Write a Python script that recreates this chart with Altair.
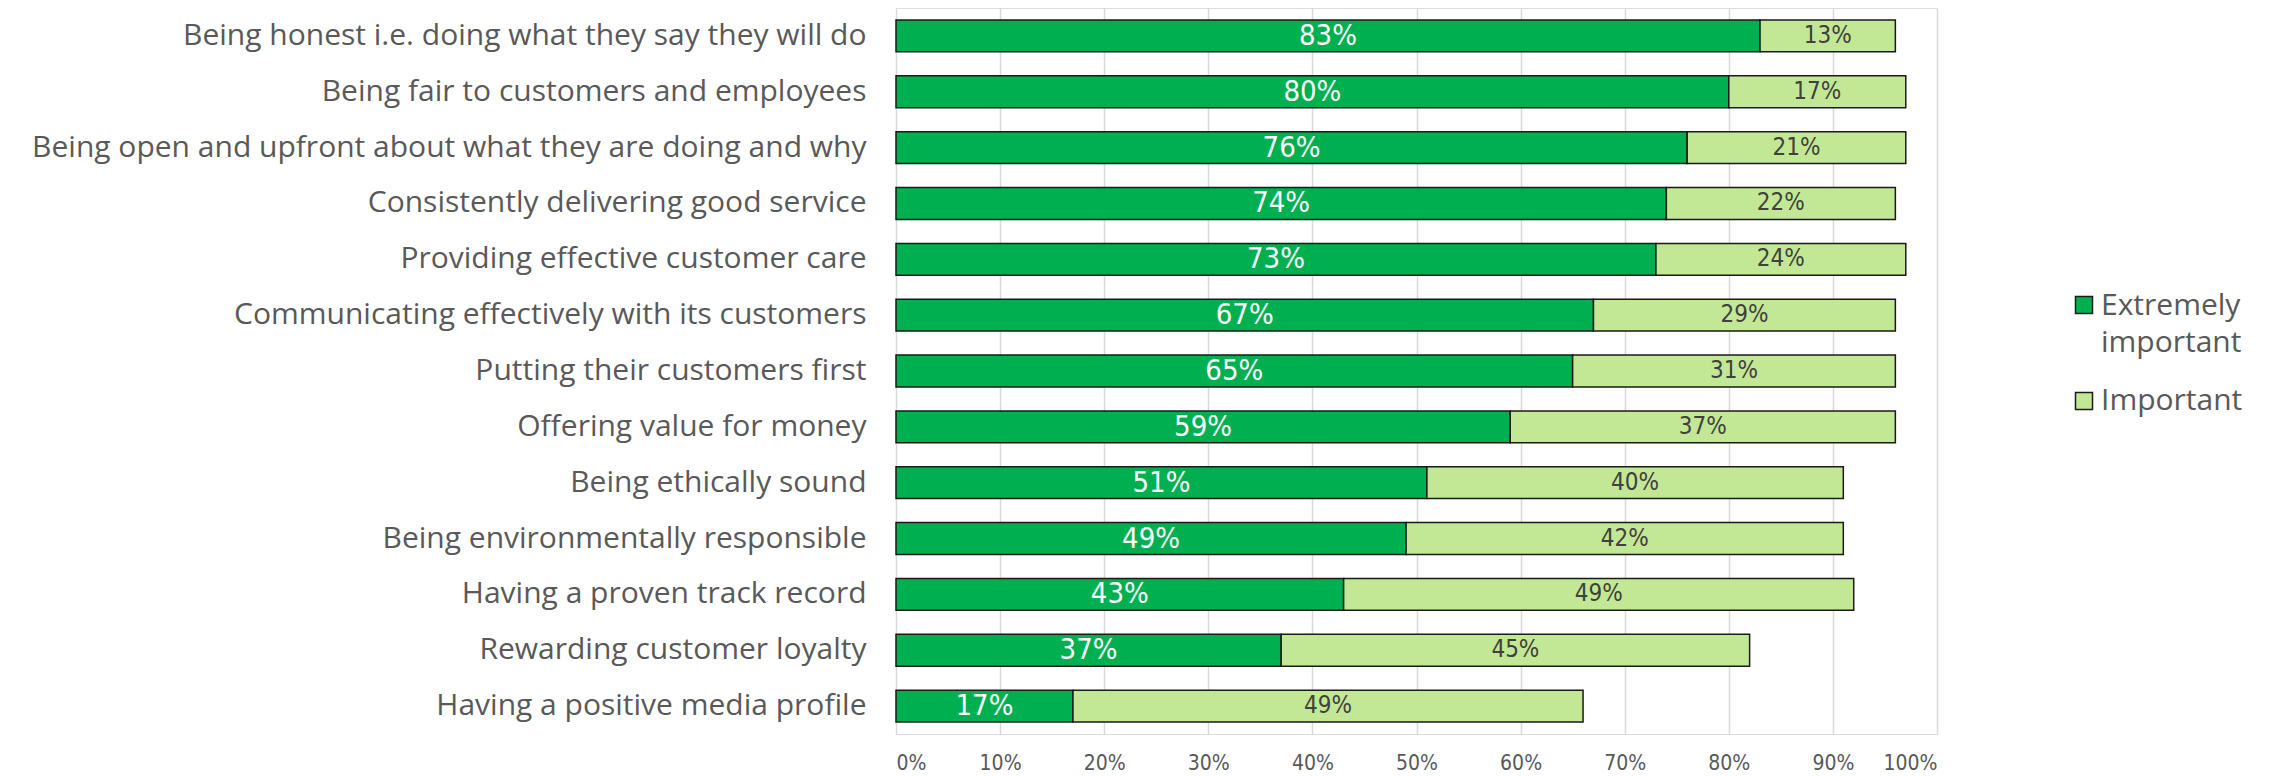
import altair as alt
import pandas as pd

categories = [
    "Being honest i.e. doing what they say they will do",
    "Being fair to customers and employees",
    "Being open and upfront about what they are doing and why",
    "Consistently delivering good service",
    "Providing effective customer care",
    "Communicating effectively with its customers",
    "Putting their customers first",
    "Offering value for money",
    "Being ethically sound",
    "Being environmentally responsible",
    "Having a proven track record",
    "Rewarding customer loyalty",
    "Having a positive media profile",
]
extremely = [83, 80, 76, 74, 73, 67, 65, 59, 51, 49, 43, 37, 17]
important = [13, 17, 21, 22, 24, 29, 31, 37, 40, 42, 49, 45, 49]
series = ["Extremely important", "Important"]
legend_labels = ["Extremely\nimportant", "Important"]
colors = ["#00B050", "#C3E895"]
x_ticks = [0, 10, 20, 30, 40, 50, 60, 70, 80, 90, 100]

rows = []
for c, e, i in zip(categories, extremely, important):
    rows.append({"category": c, "series": series[0], "value": e, "ord": 0})
    rows.append({"category": c, "series": series[1], "value": i, "ord": 1})
df = pd.DataFrame(rows)

LABEL_FONT = "Open Sans"
NUM_FONT = "DejaVu Sans Condensed"

color_scale = alt.Scale(domain=series, range=colors)

base = alt.Chart(df).transform_stack(
    stack="value", groupby=["category"], as_=["x0", "x1"],
    sort=[alt.SortField("ord", order="ascending")]
).transform_calculate(mid="(datum.x0 + datum.x1) / 2",
                      lab="datum.value + '%'")

y_enc = alt.Y("category:N", sort=categories, title=None,
              scale=alt.Scale(paddingInner=0.43, paddingOuter=0.215),
              axis=alt.Axis(labelFont=LABEL_FONT, labelFontSize=30,
                            labelColor="#595959", labelPadding=30,
                            labelLimit=2000, ticks=False, domain=False,
                            grid=False))

bars = base.mark_bar(stroke="#1a1a1a", strokeWidth=1.5).encode(
    x=alt.X("x0:Q", title=None,
            scale=alt.Scale(domain=[0, 100], nice=False),
            axis=alt.Axis(values=x_ticks, labelExpr="datum.value + '%'",
                          labelFont=NUM_FONT, labelFontSize=21,
                          labelColor="#595959", labelPadding=18,
                          ticks=False, domain=False, grid=True,
                          gridColor="#D9D9D9", gridWidth=1.5)),
    x2="x1:Q",
    y=y_enc,
    color=alt.Color("series:N", scale=color_scale, legend=None),
)

text_dark = base.transform_filter(alt.datum.ord == 0).mark_text(
    font=NUM_FONT, fontSize=29, color="white", baseline="middle"
).encode(x="mid:Q", y=alt.Y("category:N", sort=categories), text="lab:N")

text_light = base.transform_filter(alt.datum.ord == 1).mark_text(
    font=NUM_FONT, fontSize=24, color="#404040", baseline="middle"
).encode(x="mid:Q", y=alt.Y("category:N", sort=categories), text="lab:N")

# manual legend (two entries)
legend_layers = []
for idx, (s, lab) in enumerate(zip(series, legend_labels)):
    ldf = pd.DataFrame({"series": [s], "label": [lab]})
    sym_y = [297, 393][idx]
    txt_y = [307, 402][idx]
    sym = alt.Chart(ldf).mark_square(
        size=289, stroke="#1a1a1a", strokeWidth=1.5, opacity=1
    ).encode(x=alt.value(1188), y=alt.value(sym_y),
             color=alt.Color("series:N", scale=color_scale, legend=None))
    txt = alt.Chart(ldf).mark_text(
        font=LABEL_FONT, fontSize=30, color="#595959", align="left",
        baseline="alphabetic", lineBreak="\n", lineHeight=37
    ).encode(x=alt.value(1205), y=alt.value(txt_y), text="label:N")
    legend_layers += [sym, txt]

chart = alt.layer(bars, text_dark, text_light, *legend_layers).properties(
    width=1041, height=726,
    autosize=alt.AutoSizeParams(type="none"),
    padding={"left": 888, "top": 0, "right": 330, "bottom": 40},
).configure_view(stroke=None).configure(background="white")

chart.save("out.html", embed_options={"renderer": "svg", "actions": False})
